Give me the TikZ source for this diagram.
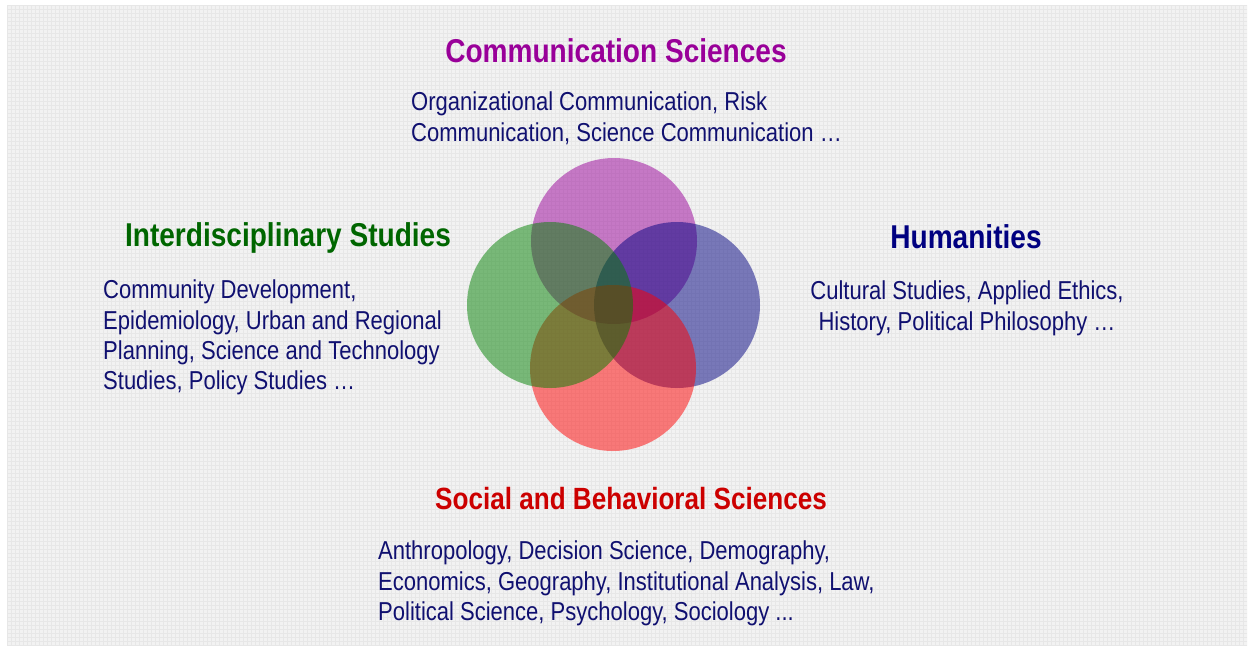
\documentclass[tikz,border=0pt]{standalone}
\usepackage{fontspec}
\setmainfont{Liberation Sans}[FakeStretch=0.85]
\definecolor{bgfill}{RGB}{242,242,242}
\definecolor{bgline}{RGB}{231,231,231}
\definecolor{commcol}{RGB}{153,0,153}
\definecolor{intercol}{RGB}{0,102,0}
\definecolor{humcol}{RGB}{0,0,128}
\definecolor{soccol}{RGB}{204,0,0}
\definecolor{bodycol}{RGB}{16,16,112}
\definecolor{ringpurple}{RGB}{153,0,153}
\definecolor{ringgreen}{RGB}{0,128,0}
\definecolor{ringblue}{RGB}{0,0,128}
\definecolor{ringred}{RGB}{255,0,0}
\tikzset{
  ring/.style={circle, inner sep=0pt, minimum size=166pt, fill opacity=0.5, draw=none},
  heading/.style={font=\bfseries\fontsize{33}{38}\selectfont, inner sep=0pt, anchor=base},
  body/.style={font=\fontsize{25.9}{30.3}\selectfont, text=bodycol, inner sep=0pt},
}
\begin{document}
\begin{tikzpicture}[x=1pt, y=-1pt]
\useasboundingbox (0,0) rectangle (1250,649);
% textured backdrop
\fill[bgfill] (7,5) rectangle (1247,646);
\begin{scope}
  \clip (7,5) rectangle (1247,646);
  \foreach \gx in {7,11,...,1247} \draw[bgline, line width=0.9pt] (\gx,5) -- (\gx,646);
  \foreach \gy in {5,9,...,646} \draw[bgline, line width=0.9pt] (7,\gy) -- (1247,\gy);
\end{scope}
% overlapping discipline rings
\node[ring, fill=ringpurple] (rcomm) at (614,241) {};
\node[ring, fill=ringblue]   (rhum)  at (677,305) {};
\node[ring, fill=ringred]    (rsoc)  at (613,368) {};
\node[ring, fill=ringgreen]  (rint)  at (550,305) {};
% headings
\node[heading, text=commcol]  (hcomm) at (616,62)  {Communication Sciences};
\node[heading, text=intercol] (hint)  at (288,246) {Interdisciplinary Studies};
\node[heading, text=humcol]   (hhum)  at (966,248) {Humanities};
\node[heading, text=soccol, font=\bfseries\fontsize{30.7}{36}\selectfont] (hsoc) at (631,509) {Social and Behavioral Sciences};
% field lists
\node[body, align=left, anchor=north west] (bcomm) at (411,92)
  {Organizational Communication, Risk\\Communication, Science Communication …};
\node[body, align=left, anchor=north west] (bint) at (103,280)
  {Community Development,\\Epidemiology, Urban and Regional\\Planning, Science and Technology\\Studies, Policy Studies …};
\node[body, align=center, anchor=north] (bhum) at (967,281)
  {Cultural Studies, Applied Ethics,\\History, Political Philosophy …};
\node[body, align=left, anchor=north west] (bsoc) at (378,541)
  {Anthropology, Decision Science, Demography,\\Economics, Geography, Institutional Analysis, Law,\\Political Science, Psychology, Sociology ...};
\end{tikzpicture}
\end{document}
